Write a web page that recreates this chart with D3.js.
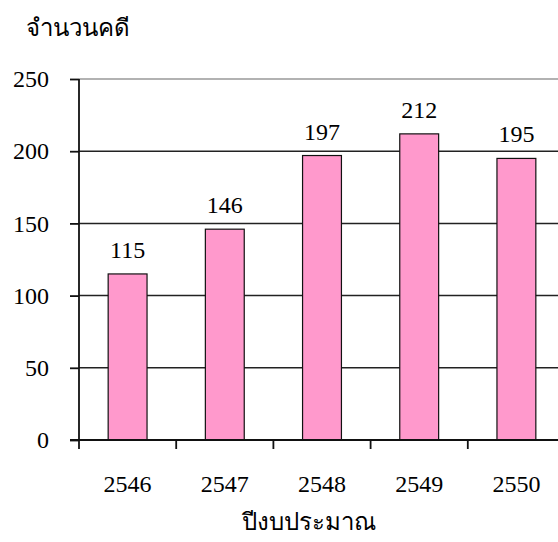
<!DOCTYPE html>
<html><head><meta charset="utf-8">
<script src="https://cdn.jsdelivr.net/npm/d3@7"></script>
<style>body{margin:0;background:#fff;} svg{display:block;}</style>
</head><body>
<script>
const categories = ["2546","2547","2548","2549","2550"];
const values = [115,146,197,212,195];
const yTicks = [0,50,100,150,200,250];
const yTitle = "จำนวนคดี";
const xTitle = "ปีงบประมาณ";

(function(){
const W = 558, H = 542;
const mLeft = 79, mTop = 79, mBottom = 440, plotRight = 565;
const svg = d3.select("body").append("svg").attr("width", W).attr("height", H);
const font = "'Liberation Serif','Times New Roman',serif";
const fs = 24;

const x = d3.scaleBand().domain(categories).range([mLeft, plotRight]).paddingInner(0.6).paddingOuter(0.3);
const y = d3.scaleLinear().domain([0,250]).range([mBottom, mTop]);

// gridlines
svg.append("g").selectAll("line").data(yTicks.filter(d=>d>0)).join("line")
  .attr("x1", mLeft).attr("x2", W).attr("y1", d=>y(d)).attr("y2", d=>y(d))
  .attr("stroke", d=> d===250 ? "#999" : "#222").attr("stroke-width", 1.5);

// bars
svg.append("g").selectAll("rect").data(values).join("rect")
  .attr("x", (d,i)=>x(categories[i])).attr("width", x.bandwidth())
  .attr("y", d=>y(d)).attr("height", d=>mBottom - y(d))
  .attr("fill", "#ff99cc").attr("stroke", "#111").attr("stroke-width", 1.2);

// value labels
svg.append("g").selectAll("text").data(values).join("text")
  .attr("x", (d,i)=>x(categories[i]) + x.bandwidth()/2).attr("y", d=>y(d) - 16)
  .attr("text-anchor","middle").attr("font-family", font).attr("font-size", fs).attr("fill","#000")
  .text(d=>d);

// y axis
const yAxis = d3.axisLeft(y).tickValues(yTicks).tickSize(9).tickPadding(21).tickFormat(d3.format("d"));
const ga = svg.append("g").attr("transform", `translate(${mLeft},0)`).call(yAxis);
ga.select(".domain").attr("stroke","#111").attr("stroke-width",1.8).attr("d", `M0,${mTop}V${mBottom}`);
ga.selectAll(".tick line").attr("stroke","#111").attr("stroke-width",1.8);
ga.selectAll("text").attr("font-family", font).attr("font-size", fs).attr("fill","#000");

// x axis
const xEdge = d3.scaleLinear().domain([0,5]).range([mLeft, plotRight]);
svg.append("line").attr("x1", mLeft - 9).attr("x2", W).attr("y1", mBottom).attr("y2", mBottom)
  .attr("stroke","#111").attr("stroke-width",1.8);
svg.append("g").selectAll("line").data(d3.range(0,6)).join("line")
  .attr("x1", d=>xEdge(d)).attr("x2", d=>xEdge(d)).attr("y1", mBottom).attr("y2", mBottom+9)
  .attr("stroke","#111").attr("stroke-width",1.8);
svg.append("g").selectAll("text").data(categories).join("text")
  .attr("x", d=>x(d)+x.bandwidth()/2).attr("y", 492)
  .attr("text-anchor","middle").attr("font-family", font).attr("font-size", fs).attr("fill","#000")
  .text(d=>d);

// titles
svg.append("text").attr("x", 26).attr("y", 36).attr("font-family", font).attr("font-size", 24).attr("fill","#000").text(yTitle);
svg.append("text").attr("x", 309).attr("y", 530).attr("text-anchor","middle").attr("font-family", font).attr("font-size", 24).attr("fill","#000").text(xTitle);
})();
</script>
</body></html>
